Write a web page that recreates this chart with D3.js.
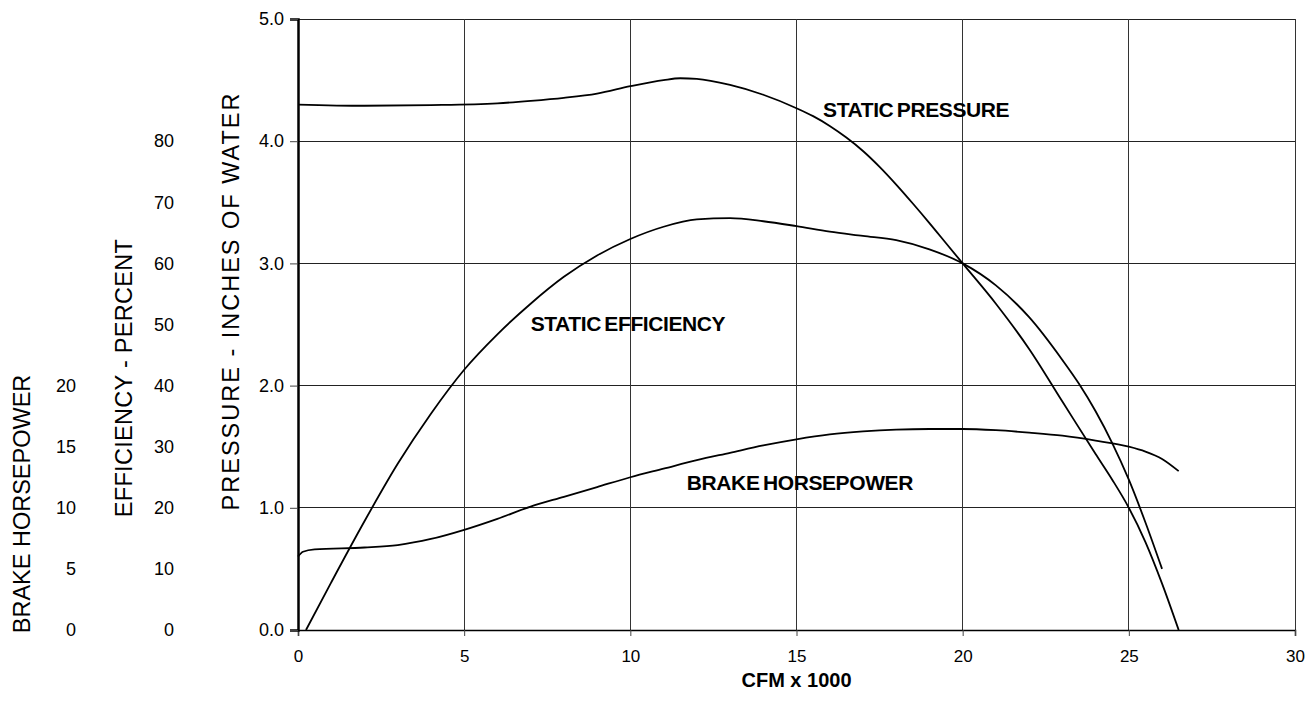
<!DOCTYPE html>
<html>
<head>
<meta charset="utf-8">
<script src="https://cdn.jsdelivr.net/npm/d3@7"></script>
<style>
  body { margin: 0; background: #fff; }
  svg { display: block; font-family: Arial, "Liberation Sans", sans-serif; }
  .tick text { fill: #000; }
</style>
</head>
<body>
<div id="chart"></div>
<script>
// fan performance curves - CFM x 1000 on x

const pressureTicks = [0, 1, 2, 3, 4, 5];
const efficiencyTicks = [0, 10, 20, 30, 40, 50, 60, 70, 80];
const bhpTicks = [0, 5, 10, 15, 20];
const cfmTicks = [0, 5, 10, 15, 20, 25, 30];

// static pressure, inches of water
const spCfm = [0, 2, 4, 6, 7, 8, 9, 10, 11, 11.5, 12, 13, 14, 15, 15.5, 16, 16.5, 17, 17.5, 18, 18.5, 19, 19.5, 20, 21, 22, 23, 24, 24.5, 25, 25.5, 26, 26.5];
const spInches = [4.30, 4.29, 4.295, 4.31, 4.33, 4.355, 4.39, 4.45, 4.50, 4.515, 4.51, 4.46, 4.38, 4.27, 4.205, 4.125, 4.03, 3.92, 3.79, 3.645, 3.49, 3.33, 3.165, 3.00, 2.67, 2.30, 1.87, 1.44, 1.23, 1.00, 0.72, 0.38, 0];

// static efficiency, percent
const effCfm = [0.24, 1, 2, 3, 4, 5, 6, 7, 8, 9, 10, 11, 12, 13, 14, 15, 16, 17, 18, 19, 20, 21, 22, 23, 23.5, 24, 24.5, 25, 25.5, 26];
const effPct = [0, 7.8, 17.8, 27.2, 35.4, 42.6, 48.4, 53.4, 57.8, 61.3, 64, 66, 67.2, 67.4, 66.9, 66.1, 65.2, 64.5, 63.8, 62.3, 60, 56.4, 51.2, 44.2, 40.3, 35.8, 30.6, 24.6, 17.6, 10];

// brake horsepower
const bhpCfm = [0, 0.15, 0.5, 2, 3, 4, 5, 6, 7, 8, 9, 10, 11, 12, 13, 14, 15, 16, 17, 18, 19, 20, 21, 22, 23, 24, 25, 25.5, 26, 26.5];
const bhpVal = [6.0, 6.4, 6.6, 6.75, 6.95, 7.45, 8.2, 9.1, 10.1, 10.9, 11.7, 12.5, 13.2, 13.9, 14.5, 15.1, 15.6, 16.0, 16.25, 16.4, 16.45, 16.45, 16.35, 16.15, 15.9, 15.5, 15.0, 14.6, 14.0, 13.0];

const W = 1310, H = 702;
const margin = { top: 19, right: 15, bottom: 72, left: 298 };

const svg = d3.select('#chart').append('svg')
    .attr('width', W)
    .attr('height', H);

const x = d3.scaleLinear().domain([0, 30]).range([margin.left, W - margin.right]);
const y = d3.scaleLinear().domain([0, 5]).range([H - margin.bottom, margin.top]);
const yEff = d3.scaleLinear().domain([0, 100]).range(y.range());
const yBhp = d3.scaleLinear().domain([0, 50]).range(y.range());

// grid
const grid = svg.append('g').attr('shape-rendering', 'crispEdges');
grid.selectAll('.hgrid')
    .data(pressureTicks.slice(1))
    .join('line')
    .attr('x1', x(0)).attr('x2', x(30))
    .attr('y1', d => y(d)).attr('y2', d => y(d))
    .attr('stroke', '#222').attr('stroke-width', 1);
grid.selectAll('.vgrid')
    .data(cfmTicks.slice(1))
    .join('line')
    .attr('x1', d => x(d)).attr('x2', d => x(d))
    .attr('y1', y(0)).attr('y2', y(5))
    .attr('stroke', '#333').attr('stroke-width', 1);

// x axis
const xAxis = svg.append('g')
    .attr('transform', `translate(0,${y(0)})`)
    .call(d3.axisBottom(x).tickValues(cfmTicks).tickSize(6).tickPadding(14));
xAxis.select('.domain').attr('stroke', '#000').attr('stroke-width', 1.5);
xAxis.selectAll('.tick line').attr('stroke', '#444');
xAxis.selectAll('.tick text').style('font-size', '17px');

// pressure axis
const yAxis = svg.append('g')
    .attr('transform', `translate(${x(0)},0)`)
    .call(d3.axisLeft(y).tickValues(pressureTicks).tickFormat(d3.format('.1f')).tickSize(8).tickPadding(6));
yAxis.select('.domain').attr('stroke', '#000').attr('stroke-width', 2.5);
yAxis.selectAll('.tick line').attr('stroke', '#444');
yAxis.selectAll('.tick text').style('font-size', '18px');

// efficiency scale (labels only)
const effAxis = svg.append('g')
    .attr('transform', 'translate(174,0)')
    .call(d3.axisLeft(yEff).tickValues(efficiencyTicks).tickSize(0).tickPadding(0));
effAxis.select('.domain').remove();
effAxis.selectAll('.tick text').style('font-size', '18px');

// bhp scale (labels only)
const bhpAxis = svg.append('g')
    .attr('transform', 'translate(76,0)')
    .call(d3.axisLeft(yBhp).tickValues(bhpTicks).tickSize(0).tickPadding(0));
bhpAxis.select('.domain').remove();
bhpAxis.selectAll('.tick text').style('font-size', '18px');

// curves
const line = d3.line().curve(d3.curveMonotoneX);

svg.append('path')
    .attr('d', line(spCfm.map((c, i) => [x(c), y(spInches[i])])))
    .attr('fill', 'none').attr('stroke', '#000').attr('stroke-width', 1.8);

svg.append('path')
    .attr('d', line(effCfm.map((c, i) => [x(c), yEff(effPct[i])])))
    .attr('fill', 'none').attr('stroke', '#000').attr('stroke-width', 1.8);

svg.append('path')
    .attr('d', line(bhpCfm.map((c, i) => [x(c), yBhp(bhpVal[i])])))
    .attr('fill', 'none').attr('stroke', '#000').attr('stroke-width', 1.8);

// curve labels
const labels = [
    { text: 'STATIC PRESSURE', cfm: 15.8, p: 4.2 },
    { text: 'STATIC EFFICIENCY', cfm: 7.0, p: 2.45 },
    { text: 'BRAKE HORSEPOWER', cfm: 11.7, p: 1.145 }
];
svg.selectAll('.curve-label')
    .data(labels)
    .join('text')
    .attr('class', 'curve-label')
    .attr('x', d => x(d.cfm))
    .attr('y', d => y(d.p))
    .style('font-size', '21px')
    .style('font-weight', 'bold')
    .style('letter-spacing', '-0.4px')
    .style('word-spacing', '-2px')
    .text(d => d.text);

// axis titles
svg.append('text')
    .attr('x', x(15)).attr('y', 687)
    .attr('text-anchor', 'middle')
    .style('font-size', '20px').style('font-weight', 'bold')
    .text('CFM x 1000');

const titles = [
    { text: 'PRESSURE - INCHES OF WATER', cx: 231, cy: 301, spacing: 2 },
    { text: 'EFFICIENCY - PERCENT', cx: 124, cy: 378, spacing: 0.3 },
    { text: 'BRAKE HORSEPOWER', cx: 22, cy: 504, spacing: 0 }
];
svg.selectAll('.axis-title')
    .data(titles)
    .join('text')
    .attr('class', 'axis-title')
    .attr('transform', d => `translate(${d.cx + 8},${d.cy}) rotate(-90)`)
    .attr('text-anchor', 'middle')
    .style('font-size', '23.5px')
    .style('letter-spacing', d => `${d.spacing}px`)
    .text(d => d.text);
</script>
</body>
</html>
